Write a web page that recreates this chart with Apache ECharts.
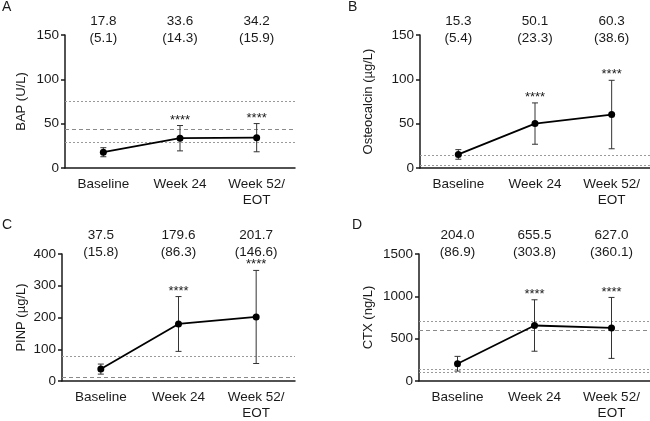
<!DOCTYPE html>
<html>
<head>
<meta charset="utf-8">
<script src="https://cdn.jsdelivr.net/npm/echarts@6/dist/echarts.min.js"></script>
<style>
  html, body { margin: 0; padding: 0; background: #fff; }
  #chart { width: 650px; height: 421px; }
</style>
</head>
<body>
<div id="chart"></div>
<script>
// data: mean (SD) at each visit
const categories = ['Baseline', 'Week 24', 'Week 52/\nEOT'];
const stars = ['', '****', '****'];

const bapMean = [17.8, 33.6, 34.2];
const bapSD = [5.1, 14.3, 15.9];
const osteoMean = [15.3, 50.1, 60.3];
const osteoSD = [5.4, 23.3, 38.6];
const pinpMean = [37.5, 179.6, 201.7];
const pinpSD = [15.8, 86.3, 146.6];
const ctxMean = [204.0, 655.5, 627.0];
const ctxSD = [86.9, 303.8, 360.1];

// reference range lines
const bapDotted = [75, 29];
const bapDashed = [44];
const osteoDotted = [14, 3];
const osteoDashed = [];
const pinpDotted = [77];
const pinpDashed = [12];
const ctxDotted = [700, 135, 102];
const ctxDashed = [600];

const yTicks = {
  bap: [0, 150, 50],
  osteo: [0, 150, 50],
  pinp: [0, 400, 100],
  ctx: [0, 1500, 500]
};

const FONT = 'Liberation Sans, Arial, sans-serif';
const INK = '#1a1a1a';

const panels = [
  { letter: 'A', name: 'BAP (U/L)', mean: bapMean, sd: bapSD, dotted: bapDotted, dashed: bapDashed, ticks: yTicks.bap,
    grid: { left: 65, top: 35, width: 230, height: 133 }, nameGap: 37, annotY: 21, letterPos: [2, 0] },
  { letter: 'B', name: 'Osteocalcin (\u00b5g/L)', mean: osteoMean, sd: osteoSD, dotted: osteoDotted, dashed: osteoDashed, ticks: yTicks.osteo,
    grid: { left: 420, top: 35, width: 230, height: 133 }, nameGap: 45, annotY: 21, letterPos: [348, 0] },
  { letter: 'C', name: 'PINP (\u00b5g/L)', mean: pinpMean, sd: pinpSD, dotted: pinpDotted, dashed: pinpDashed, ticks: yTicks.pinp,
    grid: { left: 62, top: 254, width: 233, height: 133 }, nameGap: 34, annotY: 235, letterPos: [2, 218] },
  { letter: 'D', name: 'CTX (ng/L)', mean: ctxMean, sd: ctxSD, dotted: ctxDotted, dashed: ctxDashed, ticks: yTicks.ctx,
    grid: { left: 419, top: 254, width: 231, height: 133 }, nameGap: 44, annotY: 235, letterPos: [352, 218] }
];

const chart = echarts.init(document.getElementById('chart'), null, { renderer: 'canvas' });

const grid = [], xAxis = [], yAxis = [], series = [], graphic = [];

panels.forEach((p, k) => {
  grid.push(Object.assign({ containLabel: false }, p.grid));

  xAxis.push({
    type: 'category', gridIndex: k, data: categories, boundaryGap: true,
    axisLine: { lineStyle: { color: INK, width: 1.5 } },
    axisTick: { show: false },
    axisLabel: { color: INK, fontFamily: FONT, fontSize: 13.5, margin: 8, lineHeight: 16, interval: 0 }
  });

  yAxis.push({
    type: 'value', gridIndex: k, min: p.ticks[0], max: p.ticks[1], interval: p.ticks[2],
    name: p.name, nameLocation: 'middle', nameGap: p.nameGap, nameRotate: 90,
    nameTextStyle: { color: INK, fontFamily: FONT, fontSize: 13 },
    axisLine: { show: true, lineStyle: { color: INK, width: 1.5 } },
    axisTick: { show: true, length: 4, lineStyle: { color: INK, width: 1.5 } },
    axisLabel: { color: INK, fontFamily: FONT, fontSize: 13.5, margin: 6, formatter: v => String(v) },
    splitLine: { show: false }
  });

  const refLines = [];
  p.dotted.forEach(v => refLines.push({ yAxis: v, lineStyle: { type: [2, 2], color: '#9a9a9a', width: 1 } }));
  p.dashed.forEach(v => refLines.push({ yAxis: v, lineStyle: { type: [4, 3], color: '#8a8a8a', width: 1 } }));

  // error bars + significance stars
  series.push({
    type: 'custom', xAxisIndex: k, yAxisIndex: k, z: 2,
    data: p.mean.map((m, i) => [i, m - p.sd[i], m + p.sd[i]]),
    encode: { x: 0, y: [1, 2] },
    renderItem: (params, api) => {
      const lo = api.coord([api.value(0), api.value(1)]);
      const hi = api.coord([api.value(0), api.value(2)]);
      const cap = 3;
      const st = { stroke: '#333', lineWidth: 1 };
      const children = [
        { type: 'line', shape: { x1: lo[0], y1: lo[1], x2: hi[0], y2: hi[1] }, style: st },
        { type: 'line', shape: { x1: hi[0] - cap, y1: hi[1], x2: hi[0] + cap, y2: hi[1] }, style: st },
        { type: 'line', shape: { x1: lo[0] - cap, y1: lo[1], x2: lo[0] + cap, y2: lo[1] }, style: st }
      ];
      const s = stars[params.dataIndex];
      if (s) {
        children.push({ type: 'text', x: hi[0], y: hi[1] + 1,
          style: { text: s, fill: INK, font: '13px ' + FONT, align: 'center', verticalAlign: 'bottom' } });
      }
      return { type: 'group', children };
    }
  });

  // mean line with reference range lines
  series.push({
    type: 'line', xAxisIndex: k, yAxisIndex: k, z: 3,
    data: p.mean,
    symbol: 'circle', symbolSize: 7,
    itemStyle: { color: '#000' },
    lineStyle: { color: '#000', width: 1.8 },
    markLine: { silent: true, symbol: 'none', label: { show: false }, data: refLines, z: 1 },
    animation: false
  });

  // mean (SD) annotations above each column
  series.push({
    type: 'custom', xAxisIndex: k, yAxisIndex: k, z: 4,
    data: p.mean.map((m, i) => [i, m, p.sd[i]]),
    renderItem: (params, api) => {
      const x = api.coord([api.value(0), 0])[0];
      const m = api.value(1), sd = api.value(2);
      return { type: 'group', children: [
        { type: 'text', x: x, y: p.annotY, style: { text: m.toFixed(1), fill: INK, font: '13.5px ' + FONT, align: 'center', verticalAlign: 'middle' } },
        { type: 'text', x: x, y: p.annotY + 17, style: { text: '(' + sd.toFixed(1) + ')', fill: INK, font: '13.5px ' + FONT, align: 'center', verticalAlign: 'middle' } }
      ] };
    }
  });

  graphic.push({ type: 'text', left: p.letterPos[0], top: p.letterPos[1],
    style: { text: p.letter, fill: INK, font: '14px ' + FONT } });
});

chart.setOption({
  animation: false,
  backgroundColor: '#fff',
  grid, xAxis, yAxis, series, graphic
});
</script>
</body>
</html>
